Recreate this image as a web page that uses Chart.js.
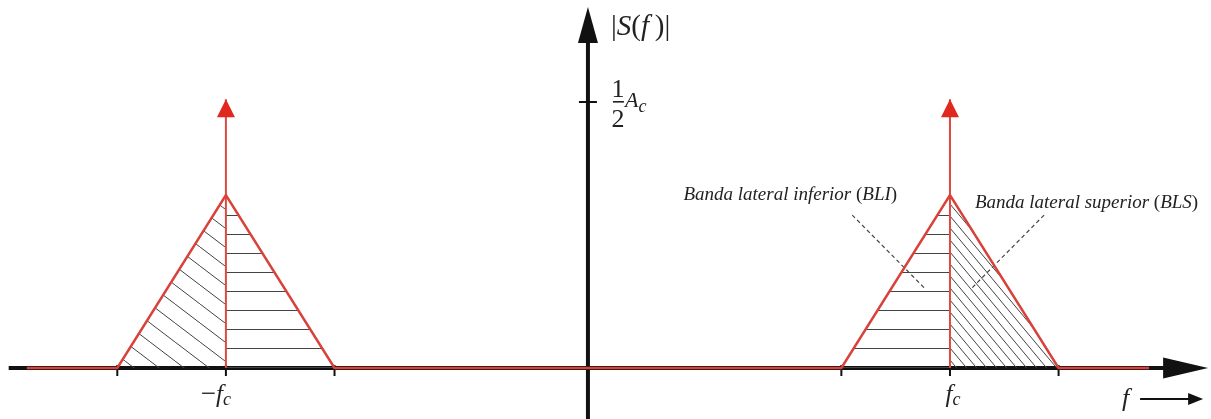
<!DOCTYPE html>
<html>
<head>
<meta charset="utf-8">
<script src="https://cdn.jsdelivr.net/npm/chart.js@4"></script>
<style>
  html, body { margin: 0; padding: 0; background: #fff; }
  #wrap { width: 1211px; height: 419px; position: relative; }
</style>
</head>
<body>
<div id="wrap"><canvas id="spectrum"></canvas></div>
<script>
// spectrum |S(f)| of an AM signal: red outline (two sideband triangles on the baseline)
const spectrumF   = [-15.5, -13, -10, -7, 7, 10, 13, 15.5];
const spectrumMag = [0, 0, 6.5, 0, 0, 6.5, 0, 0];

// carrier impulses at -fc and +fc
const carrierF   = [-10, 10];
const carrierMag = [10.1, 10.1];

// x ticks and their labels
const tickF      = [-13, -10, -7, 7, 10, 13];
const tickLabels = ['', '-fc', '', '', 'fc', ''];

// y tick (1/2 Ac)
const yTickMag = [10];

// hatched halves: index pairs into the spectrum arrays + hatch kind
const bandSegments = [[1, 2, 'diagWide'], [2, 3, 'horiz'], [4, 5, 'horiz'], [5, 6, 'diagDense']];

// leader lines for the sideband names
const leaderF   = [[7.3, 9.3], [12.6, 10.6]];
const leaderMag = [[5.75, 3.0], [5.75, 3.0]];
const bandNames = [['Banda lateral inferior ', 'BLI'], ['Banda lateral superior ', 'BLS']];
const bandNameF   = [8.54, 10.69];
const bandNameMag = [6.32, 6.02];

// drawn extent of the axes
const xAxisF   = [-16, 17.13];
const yAxisMag = [-1.92, 13.57];

const SERIF = '"Liberation Serif", "DejaVu Serif", serif';
const it = s => 'italic ' + s + 'px ' + SERIF;
const up = s => s + 'px ' + SERIF;

function hatch(kind) {
  const c = document.createElement('canvas');
  let w = 4, h = 19;
  if (kind === 'diagWide') { w = 25; h = 19; }
  if (kind === 'diagDense') { w = 10; h = 12; }
  c.width = w; c.height = h;
  const g = c.getContext('2d');
  g.strokeStyle = '#444';
  g.lineWidth = 1;
  if (kind === 'horiz') {
    g.beginPath(); g.moveTo(0, 6.5); g.lineTo(w, 6.5); g.stroke();
  } else {
    for (const dx of [-w, 0, w]) {
      g.beginPath(); g.moveTo(dx, 0); g.lineTo(dx + w, h); g.stroke();
    }
  }
  return g.createPattern(c, 'repeat');
}

const datasets = [];

datasets.push({
  data: spectrumF.map((f, i) => ({ x: f, y: spectrumMag[i] })),
  borderColor: '#d8423a', borderWidth: 2.5, pointRadius: 0, fill: false, order: 0
});

carrierF.forEach((f, i) => {
  datasets.push({
    data: [{ x: f, y: 0 }, { x: f, y: carrierMag[i] }],
    borderColor: '#dd4a40', borderWidth: 2, pointRadius: 0, fill: false, order: 1
  });
});

leaderF.forEach((fs, i) => {
  datasets.push({
    data: fs.map((f, j) => ({ x: f, y: leaderMag[i][j] })),
    borderColor: '#444', borderWidth: 1.2, borderDash: [4, 3], pointRadius: 0, fill: false, order: 2
  });
});

bandSegments.forEach(([a, b, kind]) => {
  datasets.push({
    data: [{ x: spectrumF[a], y: spectrumMag[a] }, { x: spectrumF[b], y: spectrumMag[b] }],
    borderColor: 'rgba(0,0,0,0)', borderWidth: 0, pointRadius: 0,
    fill: 'origin', backgroundColor: hatch(kind), order: 5
  });
});

function runs(ctx, parts, x, y, align) {
  let w = 0;
  parts.forEach(p => { ctx.font = p[1]; p.w = ctx.measureText(p[0]).width; w += p.w; });
  let cx = align === 'right' ? x - w : align === 'center' ? x - w / 2 : x;
  parts.forEach(p => { ctx.font = p[1]; ctx.fillText(p[0], cx, y + (p[2] || 0)); cx += p.w; });
}

function tri(ctx, pts, color) {
  ctx.fillStyle = color;
  ctx.beginPath();
  ctx.moveTo(pts[0][0], pts[0][1]);
  ctx.lineTo(pts[1][0], pts[1][1]);
  ctx.lineTo(pts[2][0], pts[2][1]);
  ctx.closePath();
  ctx.fill();
}

const axesPlugin = {
  id: 'axes',
  beforeDatasetsDraw(chart) {
    const ctx = chart.ctx, xs = chart.scales.x, ys = chart.scales.y;
    const x0 = xs.getPixelForValue(0), y0 = ys.getPixelForValue(0);
    ctx.save();
    ctx.strokeStyle = '#111';
    ctx.lineWidth = 4;
    ctx.beginPath();
    ctx.moveTo(xs.getPixelForValue(xAxisF[0]), y0);
    ctx.lineTo(xs.getPixelForValue(xAxisF[1]) - 40, y0);
    ctx.moveTo(x0, ys.getPixelForValue(yAxisMag[0]));
    ctx.lineTo(x0, ys.getPixelForValue(yAxisMag[1]) + 30);
    ctx.stroke();
    ctx.lineWidth = 2;
    ctx.beginPath();
    tickF.forEach(f => {
      const px = xs.getPixelForValue(f);
      ctx.moveTo(px, y0 - 3); ctx.lineTo(px, y0 + 8);
    });
    yTickMag.forEach(m => {
      const py = ys.getPixelForValue(m);
      ctx.moveTo(x0 - 9, py); ctx.lineTo(x0 + 9, py);
    });
    ctx.stroke();
    ctx.restore();
  },
  afterDatasetsDraw(chart) {
    const ctx = chart.ctx, xs = chart.scales.x, ys = chart.scales.y;
    const x0 = xs.getPixelForValue(0), y0 = ys.getPixelForValue(0);
    ctx.save();
    // axis arrowheads
    const xt = xs.getPixelForValue(xAxisF[1]);
    tri(ctx, [[xt, y0], [xt - 45, y0 - 10.5], [xt - 45, y0 + 10.5]], '#111');
    const yt = ys.getPixelForValue(yAxisMag[1]);
    tri(ctx, [[x0, yt], [x0 - 10, yt + 36], [x0 + 10, yt + 36]], '#111');
    // carrier arrowheads
    carrierF.forEach((f, i) => {
      const px = xs.getPixelForValue(f), py = ys.getPixelForValue(carrierMag[i]);
      tri(ctx, [[px, py], [px - 9, py + 18], [px + 9, py + 18]], '#e0281e');
    });

    ctx.fillStyle = '#222';
    ctx.textBaseline = 'alphabetic';
    ctx.textAlign = 'left';
    // |S(f)|
    runs(ctx, [['|', up(29)], ['S', it(29)], ['(', up(29)], ['f', it(29)], ['\u2009)', up(29)], ['|', up(29)]],
      x0 + 23, yt + 28, 'left');
    // 1/2 Ac
    yTickMag.forEach(m => {
      const py = ys.getPixelForValue(m);
      ctx.font = up(26);
      ctx.textAlign = 'center';
      ctx.fillText('1', x0 + 30, py - 5);
      ctx.fillText('2', x0 + 30, py + 25);
      ctx.textAlign = 'left';
      ctx.fillRect(x0 + 25, py - 1, 11, 1.6);
      runs(ctx, [['A', it(22)], ['c', it(18), 5]], x0 + 37, py + 5, 'left');
    });
    // tick labels
    tickF.forEach((f, i) => {
      const lab = tickLabels[i];
      if (!lab) return;
      const px = xs.getPixelForValue(f);
      if (lab[0] === '-') {
        runs(ctx, [['\u2212', up(27)], ['f', it(25)], ['c', it(18), 3]], px - 10, y0 + 34, 'center');
      } else {
        runs(ctx, [['f', it(25)], ['c', it(18), 3]], px + 3, y0 + 34, 'center');
      }
    });
    // f --> under the x axis arrow
    ctx.font = it(26);
    ctx.fillText('f', xt - 86, y0 + 38);
    ctx.strokeStyle = '#111';
    ctx.lineWidth = 2;
    ctx.beginPath();
    ctx.moveTo(xt - 68, y0 + 31); ctx.lineTo(xt - 14, y0 + 31);
    ctx.stroke();
    tri(ctx, [[xt - 5, y0 + 31], [xt - 20, y0 + 25], [xt - 20, y0 + 37]], '#111');
    // sideband names
    ctx.fillStyle = '#222';
    bandNames.forEach((n, i) => {
      const px = xs.getPixelForValue(bandNameF[i]), py = ys.getPixelForValue(bandNameMag[i]);
      runs(ctx, [[n[0], it(19)], ['(', up(19)], [n[1], it(19)], [')', up(19)]], px, py, i === 0 ? 'right' : 'left');
    });
    ctx.restore();
  }
};

new Chart(document.getElementById('spectrum'), {
  type: 'scatter',
  data: { datasets: datasets.map(d => Object.assign({ showLine: true, tension: 0 }, d)) },
  options: {
    responsive: true,
    maintainAspectRatio: false,
    animation: false,
    layout: { padding: 0 },
    plugins: { legend: { display: false }, tooltip: { enabled: false } },
    scales: {
      x: { type: 'linear', min: -16.24, max: 17.21, display: false },
      y: { type: 'linear', min: -1.917, max: 13.835, display: false }
    }
  },
  plugins: [axesPlugin]
});
</script>
</body>
</html>
